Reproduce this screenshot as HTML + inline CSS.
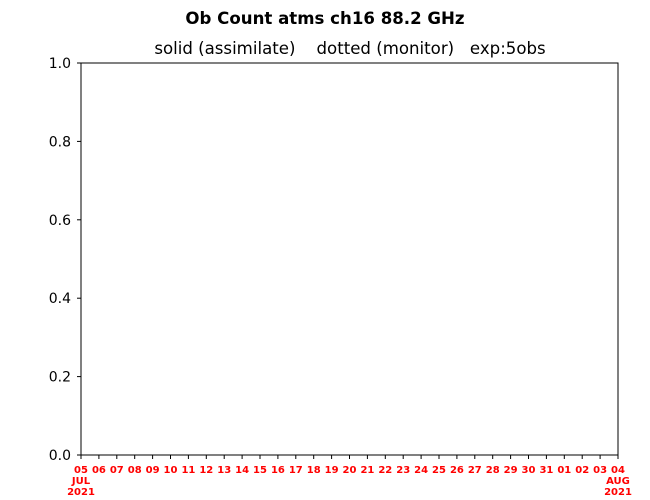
<!DOCTYPE html>
<html><head><meta charset="utf-8"><style>
html,body{margin:0;padding:0;background:#fff;}
svg{display:block;font-family:"DejaVu Sans","Liberation Sans",sans-serif;}
</style></head><body>
<svg id="chart" width="650" height="500">
<text x="325" y="24" text-anchor="middle" font-size="16.6" font-weight="bold">Ob Count atms ch16 88.2 GHz</text>
<text x="350" y="54" text-anchor="middle" font-size="16.6" xml:space="preserve">solid (assimilate)    dotted (monitor)   exp:5obs</text>
<rect x="81" y="63" width="537" height="392" fill="none" stroke="#000" stroke-width="1"/>
<g id="yaxis"></g>
<g id="xaxis"></g>
</svg>
<script>
const yTicks = [0.0, 0.2, 0.4, 0.6, 0.8, 1.0];
const xTickLabels = ["05","06","07","08","09","10","11","12","13","14","15","16","17","18","19","20","21","22","23","24","25","26","27","28","29","30","31","01","02","03","04"];
const NS = "http://www.w3.org/2000/svg";
const x0 = 81, x1 = 618, y0 = 455, y1 = 63;
const yScale = v => y0 - (v - 0) / (1 - 0) * (y0 - y1);
const xScale = i => x0 + i / (xTickLabels.length - 1) * (x1 - x0);
const yg = document.getElementById('yaxis');
yTicks.forEach(v => {
  const y = yScale(v);
  const l = document.createElementNS(NS, 'line');
  l.setAttribute('x1', x0 - 4); l.setAttribute('x2', x0); l.setAttribute('y1', y); l.setAttribute('y2', y);
  l.setAttribute('stroke', '#000');
  
  
  yg.appendChild(l);
  const t = document.createElementNS(NS, 'text');
  t.setAttribute('x', x0 - 10); t.setAttribute('y', y + 5);
  t.setAttribute('text-anchor', 'end'); t.setAttribute('font-size', '14');
  t.textContent = v.toFixed(1);
  
  
  yg.appendChild(t);
});
const xg = document.getElementById('xaxis');
xTickLabels.forEach((lab, i) => {
  const x = xScale(i);
  const l = document.createElementNS(NS, 'line');
  l.setAttribute('x1', x); l.setAttribute('x2', x); l.setAttribute('y1', y0); l.setAttribute('y2', y0 + 4);
  l.setAttribute('stroke', '#000');
  
  
  xg.appendChild(l);
  let lines = [lab];
  if (i === 0) lines = [lab, "JUL", "2021"];
  if (i === xTickLabels.length - 1) lines = [lab, "AUG", "2021"];
  lines.forEach((s, k) => {
    const t = document.createElementNS(NS, 'text');
    t.setAttribute('x', x); t.setAttribute('y', 473 + k * 11);
    t.setAttribute('text-anchor', 'middle'); t.setAttribute('font-size', '10');
    t.setAttribute('font-weight', 'bold'); t.setAttribute('fill', '#ff0000');
    t.textContent = s;
    
    
    xg.appendChild(t);
  });
});
</script>
</body></html>
